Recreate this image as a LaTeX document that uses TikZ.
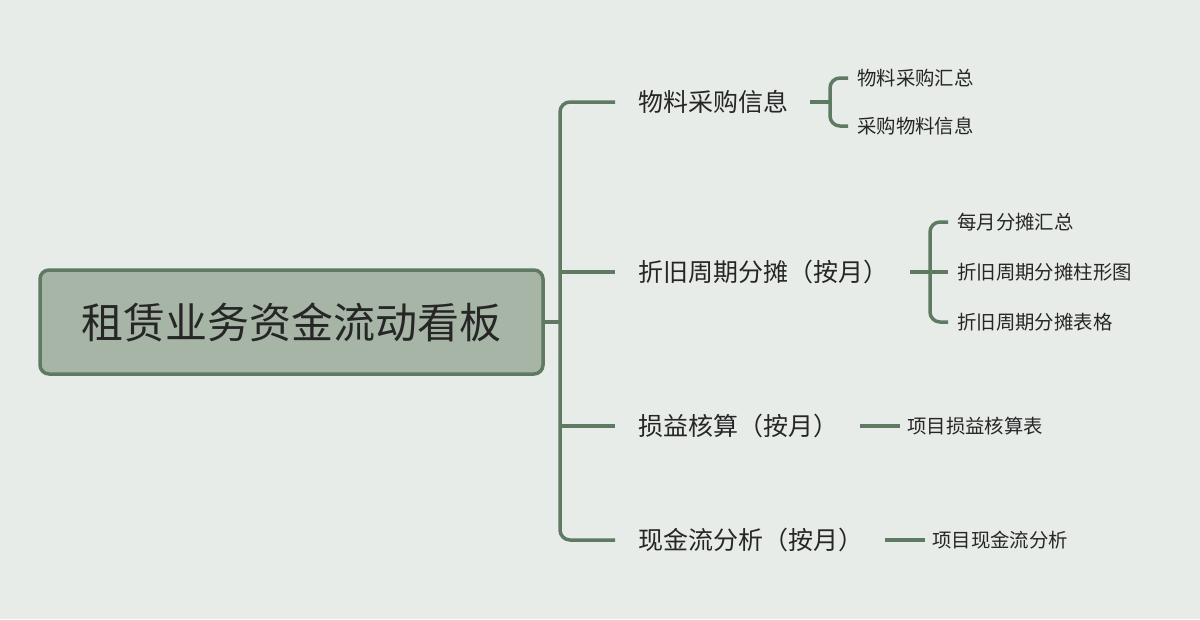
\documentclass[tikz,border=0pt]{standalone}
\usepackage{fontspec}
\setmainfont{Noto Sans CJK SC}
\begin{document}
\begin{tikzpicture}[x=1pt,y=-1pt,
  ln/.style={draw=lc,line width=3.5pt,rounded corners=10pt},
  l1/.style={anchor=west,font=\fontsize{25}{29}\selectfont,text=black!85,inner sep=0pt},
  l2/.style={anchor=west,font=\fontsize{19.4}{22}\selectfont,text=black!85,inner sep=0pt}]
\definecolor{bg}{HTML}{E8ECE8}
\definecolor{lc}{HTML}{5E7A62}
\definecolor{rf}{HTML}{A6B5A6}
\fill[bg] (0,0) rectangle (1200,619);
\useasboundingbox (0,0) rectangle (1200,619);
\node[draw=lc,fill=rf,line width=3.5pt,rounded corners=9pt,minimum width=503pt,minimum height=104pt,font=\fontsize{42}{46}\selectfont,text=black!85] (root) at (291.5,322) {租赁业务资金流动看板};
\node[l1] (a) at (638,102) {物料采购信息};
\node[l1] (b) at (638,272) {折旧周期分摊（按月）};
\node[l1] (c) at (638,426) {损益核算（按月）};
\node[l1] (d) at (638,540) {现金流分析（按月）};
\node[l2] (a1) at (857,78) {物料采购汇总};
\node[l2] (a2) at (857,126) {采购物料信息};
\node[l2] (b1) at (957,222) {每月分摊汇总};
\node[l2] (b2) at (957,272) {折旧周期分摊柱形图};
\node[l2] (b3) at (957,322) {折旧周期分摊表格};
\node[l2] (c1) at (907,426) {项目损益核算表};
\node[l2] (d1) at (932,540) {项目现金流分析};
\coordinate (t) at (560,322);
\draw[ln] (root.east) -- (t);
\draw[ln] (615,102) -- (560,102) -- (560,540) -- (615,540);
\draw[ln] (560,272) -- (615,272);
\draw[ln] (560,426) -- (615,426);
\draw[ln] (848,78) -- (830,78) -- (830,126) -- (848,126);
\draw[ln] (810,102) -- (830,102);
\draw[ln] (948,222) -- (930,222) -- (930,322) -- (948,322);
\draw[ln] (910,272) -- (948,272);
\draw[ln] (860,426) -- (900,426);
\draw[ln] (885,540) -- (925,540);
\end{tikzpicture}
\end{document}
